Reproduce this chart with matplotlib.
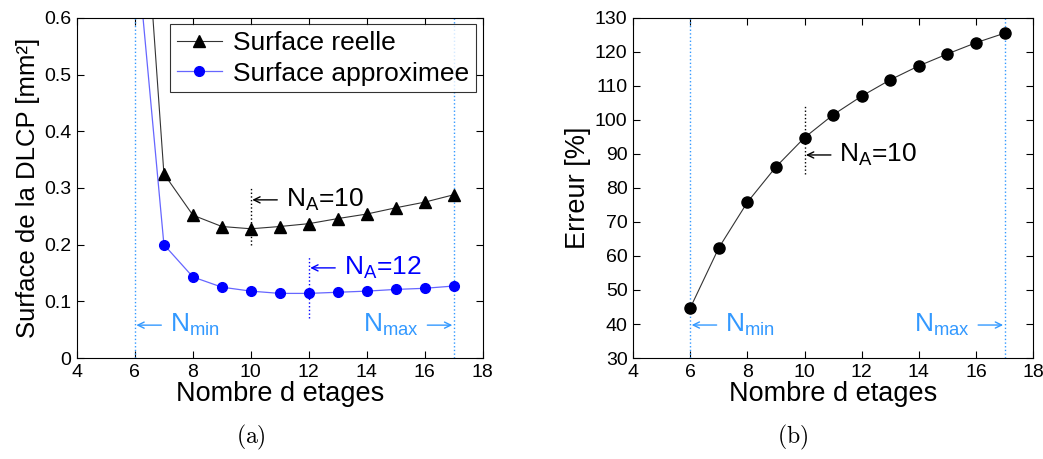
import matplotlib
matplotlib.use('Agg')
import matplotlib.pyplot as plt

plt.rcParams['font.family'] = ['Liberation Sans', 'DejaVu Sans']
plt.rcParams['mathtext.fontset'] = 'custom'
plt.rcParams['mathtext.rm'] = 'Liberation Sans'
plt.rcParams['mathtext.it'] = 'Liberation Sans'

etages = [6, 7, 8, 9, 10, 11, 12, 13, 14, 15, 16, 17]
surf_reelle = [1.05, 0.325, 0.252, 0.232, 0.228, 0.232, 0.237, 0.246, 0.254, 0.265, 0.275, 0.288]
surf_approx = [0.755, 0.200, 0.143, 0.125, 0.118, 0.114, 0.114, 0.116, 0.118, 0.121, 0.123, 0.127]
erreur = [44.7, 62.4, 75.8, 86.2, 94.8, 101.5, 107.0, 111.8, 115.9, 119.4, 122.7, 125.5]

n_min = 6
n_max = 17
lightblue = '#3399ff'
blue = '#0000ff'
fs_txt = 19


def arrow_label(ax, x, y, label, color='k', right=False):
    # thin arrow pointing at x, label next to it (matlab style "<- text")
    s = -1 if right else 1
    ax.annotate('', xy=(x, y), xytext=(s * 19, 0), textcoords='offset points',
                arrowprops=dict(arrowstyle='->,head_length=0.45,head_width=0.22',
                                color=color, lw=1, shrinkA=0, shrinkB=1))
    ax.annotate(label, xy=(x, y), xytext=(s * 25, 0), textcoords='offset points',
                fontsize=fs_txt, color=color, va='center',
                ha='right' if right else 'left')


fig = plt.figure(figsize=(10.43, 4.59), dpi=100)
ax1 = fig.add_axes([0.0738, 0.220, 0.389, 0.741])
ax2 = fig.add_axes([0.607, 0.220, 0.3835, 0.741])

for ax in (ax1, ax2):
    ax.tick_params(direction='in', top=True, right=True, labelsize=14, length=5, width=0.8, pad=4)
    ax.set_xlim(4, 18)
    ax.set_xticks(range(4, 19, 2))
    ax.set_xlabel('Nombre d etages', fontsize=19.5, labelpad=0)
    for v in (n_min, n_max):
        ax.axvline(v, color=lightblue, linestyle=':', linewidth=1)

# (a)
ax1.plot(etages, surf_reelle, '-^', color='#333333', mfc='k', mec='k', linewidth=0.8,
         markersize=9, label='Surface reelle')
ax1.plot(etages, surf_approx, '-o', color='#6666ff', mec=blue, mfc=blue, linewidth=0.9,
         markersize=7, label='Surface approximee')
ax1.set_ylim(0, 0.6)
ax1.set_yticks([0, 0.1, 0.2, 0.3, 0.4, 0.5, 0.6])
ax1.set_yticklabels(['0', '0.1', '0.2', '0.3', '0.4', '0.5', '0.6'])
ax1.set_ylabel('Surface de la DLCP [mm²]', fontsize=18.5, labelpad=3)
leg = ax1.legend(loc='upper right', fontsize=fs_txt, frameon=True, fancybox=False,
                 edgecolor='k', borderaxespad=0.25, handlelength=1.7, borderpad=0.25,
                 labelspacing=0.25, handletextpad=0.45)
leg.get_frame().set_linewidth(0.8)

ax1.plot([10, 10], [0.2, 0.3], color='k', linestyle=':', linewidth=1)
arrow_label(ax1, 10, 0.279, 'N$_\\mathrm{A}$=10')
ax1.plot([12, 12], [0.07, 0.18], color=blue, linestyle=':', linewidth=1)
arrow_label(ax1, 12, 0.159, 'N$_\\mathrm{A}$=12', color=blue)
arrow_label(ax1, n_min, 0.058, 'N$_\\mathrm{min}$', color=lightblue)
arrow_label(ax1, n_max, 0.058, 'N$_\\mathrm{max}$', color=lightblue, right=True)

# (b)
ax2.plot(etages, erreur, '-o', color='#333333', mfc='k', mec='k', linewidth=0.8, markersize=8)
ax2.set_ylim(30, 130)
ax2.set_yticks(range(30, 131, 10))
ax2.set_ylabel('Erreur [%]', fontsize=19.5, labelpad=3)
ax2.plot([10, 10], [84, 104], color='k', linestyle=':', linewidth=1)
arrow_label(ax2, 10, 89.7, 'N$_\\mathrm{A}$=10')
arrow_label(ax2, n_min, 39.7, 'N$_\\mathrm{min}$', color=lightblue)
arrow_label(ax2, n_max, 39.7, 'N$_\\mathrm{max}$', color=lightblue, right=True)

fig.text(0.241, 0.048, r'$\mathrm{(a)}$', fontsize=17, ha='center', va='center', math_fontfamily='cm')
fig.text(0.760, 0.048, r'$\mathrm{(b)}$', fontsize=17, ha='center', va='center', math_fontfamily='cm')

fig.savefig('out.png', dpi=100)
